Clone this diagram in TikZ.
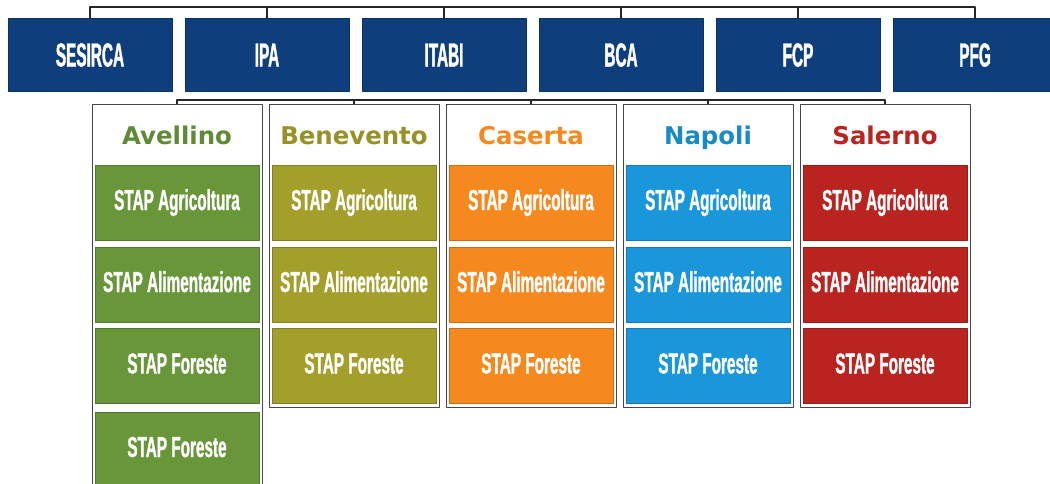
\documentclass[tikz,border=0pt]{standalone}
\usepackage{fontspec}
\newfontfamily\topfont{Liberation Sans}[FakeStretch=0.46,FakeBold=1.2]
\newfontfamily\rowfont{Liberation Sans}[FakeStretch=0.53,FakeBold=1]
\newfontfamily\headfont{DejaVu Sans}
\definecolor{topblue}{RGB}{14,62,124}
\definecolor{avgreen}{RGB}{104,150,56}
\definecolor{bnolive}{RGB}{164,158,42}
\definecolor{csorange}{RGB}{246,137,30}
\definecolor{nablue}{RGB}{26,150,218}
\definecolor{sared}{RGB}{186,36,32}
\tikzset{
  unit/.style={rectangle,fill=topblue,draw=topblue!80!black,line width=0.8bp,
    minimum width=164bp,minimum height=73bp,inner sep=0,text=white,
    font=\topfont\bfseries\fontsize{33.5}{35}\selectfont,text height=24bp,text depth=0bp},
  frame/.style={rectangle,draw=gray!55!black,line width=1bp,fill=white,
    minimum width=170bp,inner sep=0,anchor=north},
  head/.style={anchor=base,inner sep=0,font=\headfont\bfseries\fontsize{24.5}{26}\selectfont},
  row/.style={rectangle,fill=#1,draw=#1!80!black,line width=0.8bp,
    minimum width=164bp,minimum height=75bp,inner sep=0,text=white,
    font=\rowfont\bfseries\fontsize{29}{31}\selectfont,text height=21bp,text depth=6bp},
  link/.style={draw=black!85,line width=1.2bp},
}
\begin{document}
\begin{tikzpicture}[line join=bevel,]
\useasboundingbox (0bp,0bp) rectangle (1050bp,-484bp);
\clip (0bp,0bp) rectangle (1050bp,-484bp);
\fill[white] (0bp,0bp) rectangle (1050bp,-484bp);
%%
\coordinate (topbar) at (0bp,-7bp);
\coordinate (midbar) at (0bp,-100bp);
%%
\node (sesirca) at (90bp,-54.5bp) [unit] {SESIRCA};
  \node (ipa) at (267bp,-54.5bp) [unit] {IPA};
  \node (itabi) at (444bp,-54.5bp) [unit] {ITABI};
  \node (bca) at (621bp,-54.5bp) [unit] {BCA};
  \node (fcp) at (798bp,-54.5bp) [unit] {FCP};
  \node (pfg) at (975bp,-54.5bp) [unit] {PFG};
  \draw [link] (sesirca.north) -- (sesirca.north |- topbar) -- (pfg.north |- topbar) -- (pfg.north);
  \draw [link] (ipa.north) -- (ipa.north |- topbar);
  \draw [link] (itabi.north) -- (itabi.north |- topbar);
  \draw [link] (bca.north) -- (bca.north |- topbar);
  \draw [link] (fcp.north) -- (fcp.north |- topbar);
%
\node (avellino) at (177bp,-104bp) [frame,minimum height=390bp] {};
  \node (benevento) at (354bp,-104bp) [frame,minimum height=303bp] {};
  \node (caserta) at (531bp,-104bp) [frame,minimum height=303bp] {};
  \node (napoli) at (708bp,-104bp) [frame,minimum height=303bp] {};
  \node (salerno) at (885bp,-104bp) [frame,minimum height=303bp] {};
  \draw [link] (avellino.north) -- (avellino.north |- midbar) -- (salerno.north |- midbar) -- (salerno.north);
  \draw [link] (benevento.north) -- (benevento.north |- midbar);
  \draw [link] (caserta.north) -- (caserta.north |- midbar);
  \draw [link] (napoli.north) -- (napoli.north |- midbar);
%
\node (avellino_h) at (177bp,-144bp) [head,text=avgreen!92!black] {Avellino};
  \node (avellino_1) at (177bp,-202.5bp) [row=avgreen] {STAP Agricoltura};
  \node (avellino_2) at (177bp,-284.5bp) [row=avgreen] {STAP Alimentazione};
  \node (avellino_3) at (177bp,-366bp) [row=avgreen] {STAP Foreste};
  \node (avellino_4) at (177bp,-449.5bp) [row=avgreen] {STAP Foreste};
%
\node (benevento_h) at (354bp,-144bp) [head,text=bnolive!92!black] {Benevento};
  \node (benevento_1) at (354bp,-202.5bp) [row=bnolive] {STAP Agricoltura};
  \node (benevento_2) at (354bp,-284.5bp) [row=bnolive] {STAP Alimentazione};
  \node (benevento_3) at (354bp,-366bp) [row=bnolive] {STAP Foreste};
%
\node (caserta_h) at (531bp,-144bp) [head,text=csorange] {Caserta};
  \node (caserta_1) at (531bp,-202.5bp) [row=csorange] {STAP Agricoltura};
  \node (caserta_2) at (531bp,-284.5bp) [row=csorange] {STAP Alimentazione};
  \node (caserta_3) at (531bp,-366bp) [row=csorange] {STAP Foreste};
%
\node (napoli_h) at (708bp,-144bp) [head,text=nablue!92!black] {Napoli};
  \node (napoli_1) at (708bp,-202.5bp) [row=nablue] {STAP Agricoltura};
  \node (napoli_2) at (708bp,-284.5bp) [row=nablue] {STAP Alimentazione};
  \node (napoli_3) at (708bp,-366bp) [row=nablue] {STAP Foreste};
%
\node (salerno_h) at (885bp,-144bp) [head,text=sared] {Salerno};
  \node (salerno_1) at (885bp,-202.5bp) [row=sared] {STAP Agricoltura};
  \node (salerno_2) at (885bp,-284.5bp) [row=sared] {STAP Alimentazione};
  \node (salerno_3) at (885bp,-366bp) [row=sared] {STAP Foreste};
%
\end{tikzpicture}
\end{document}
